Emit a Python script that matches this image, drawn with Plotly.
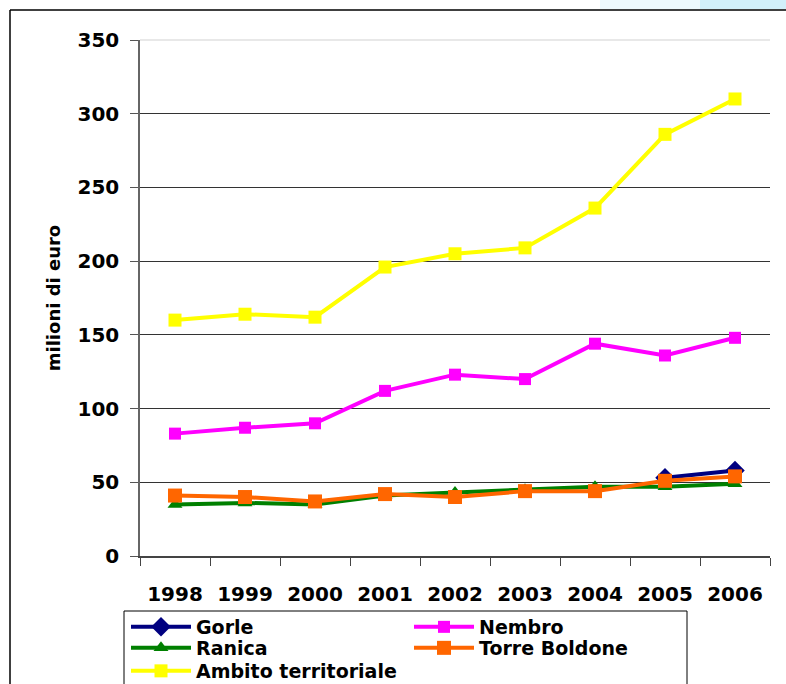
import plotly.graph_objects as go

years = ["1998", "1999", "2000", "2001", "2002", "2003", "2004", "2005", "2006"]
gorle = [None, None, None, None, None, None, None, 53, 58]
nembro = [83, 87, 90, 112, 123, 120, 144, 136, 148]
ranica = [35, 36, 35, 41, 43, 45, 47, 47, 49]
torre_boldone = [41, 40, 37, 42, 40, 44, 44, 51, 54]
ambito = [160, 164, 162, 196, 205, 209, 236, 286, 310]
y_ticks = [0, 50, 100, 150, 200, 250, 300, 350]

FONT = "DejaVu Sans"

W, H = 786, 684
L, R, T, B = 140, 16, 40, 128
PW, PH = W - L - R, H - T - B


def px_x(x):
    return (x - L) / PW


def px_y(y):
    return (H - B - y) / PH


fig = go.Figure()
series = [
    ("Gorle", gorle, "#000080", "diamond", 15, "legend"),
    ("Nembro", nembro, "#FF00FF", "square", 12, "legend"),
    ("Ranica", ranica, "#008000", "triangle-up", 13, "legend2"),
    ("Torre Boldone", torre_boldone, "#FF6600", "square", 14, "legend2"),
    ("Ambito territoriale", ambito, "#FFFF00", "square", 13, "legend3"),
]
for name, vals, col, sym, sz, leg in series:
    fig.add_trace(go.Scatter(
        x=years, y=vals, name=name, mode="lines+markers",
        line=dict(color=col, width=4),
        marker=dict(color=col, symbol=sym, size=sz),
        connectgaps=False, legend=leg,
    ))

shapes = [
    # faint top border of the plot area (covers the 350 gridline)
    dict(type="line", xref="paper", yref="paper", x0=0, x1=1, y0=1, y1=1,
         line=dict(color="#e8e8e8", width=2), layer="below"),
    # light blue decoration at top-right
    dict(type="rect", xref="paper", yref="paper", x0=px_x(600), x1=px_x(700),
         y0=px_y(9), y1=px_y(-2), fillcolor="#eef9fd", line=dict(width=0)),
    dict(type="rect", xref="paper", yref="paper", x0=px_x(700), x1=px_x(790),
         y0=px_y(9), y1=px_y(-2), fillcolor="#d2f0fa", line=dict(width=0)),
    # outer frame
    dict(type="line", xref="paper", yref="paper", x0=px_x(10), x1=px_x(800),
         y0=px_y(10), y1=px_y(10), line=dict(color="black", width=1.5)),
    dict(type="line", xref="paper", yref="paper", x0=px_x(10), x1=px_x(10),
         y0=px_y(10), y1=px_y(700), line=dict(color="black", width=1.5)),
    # legend box
    dict(type="rect", xref="paper", yref="paper", x0=px_x(124), x1=px_x(687),
         y0=px_y(611), y1=px_y(700), line=dict(color="black", width=1),
         fillcolor="rgba(0,0,0,0)"),
]

legend_common = dict(
    orientation="h", xref="container", yref="container",
    x=126 / W, xanchor="left", yanchor="middle",
    borderwidth=0, bgcolor="rgba(0,0,0,0)",
    font=dict(family=FONT, size=19, color="black", weight="bold"),
    itemwidth=60, entrywidth=208, entrywidthmode="pixels",
    traceorder="normal", tracegroupgap=0,
)

fig.update_layout(
    width=W, height=H,
    margin=dict(l=L, r=R, t=T, b=B, pad=0, autoexpand=False),
    paper_bgcolor="white", plot_bgcolor="white",
    font=dict(family=FONT, color="black"),
    showlegend=True,
    legend=dict(legend_common, y=1 - 627 / H),
    legend2=dict(legend_common, y=1 - 648 / H),
    legend3=dict(legend_common, y=1 - 671 / H),
    xaxis=dict(
        type="category", range=[-0.5, 8.5], tickson="boundaries",
        ticks="outside", ticklen=8, tickcolor="#444", tickwidth=1,
        showline=True, linecolor="#444", linewidth=1.5, showgrid=False,
        tickfont=dict(family=FONT, size=20, color="black", weight="bold"),
        ticklabelstandoff=19,
    ),
    yaxis=dict(
        range=[0, 350], tickvals=y_ticks, ticks="outside", ticklen=8,
        tickcolor="#555", showline=True, linecolor="#666", linewidth=1.5,
        showgrid=True, gridcolor="#333333", gridwidth=1, zeroline=False,
        tickfont=dict(family=FONT, size=20, color="black", weight="bold"),
        ticklabelstandoff=7,
        title=dict(text="milioni di euro", standoff=12,
                   font=dict(family=FONT, size=18, color="black", weight="bold")),
    ),
    shapes=shapes,
)

fig.write_html("out.html", config={"displayModeBar": False},
               post_script="document.body.style.margin='0px';")
